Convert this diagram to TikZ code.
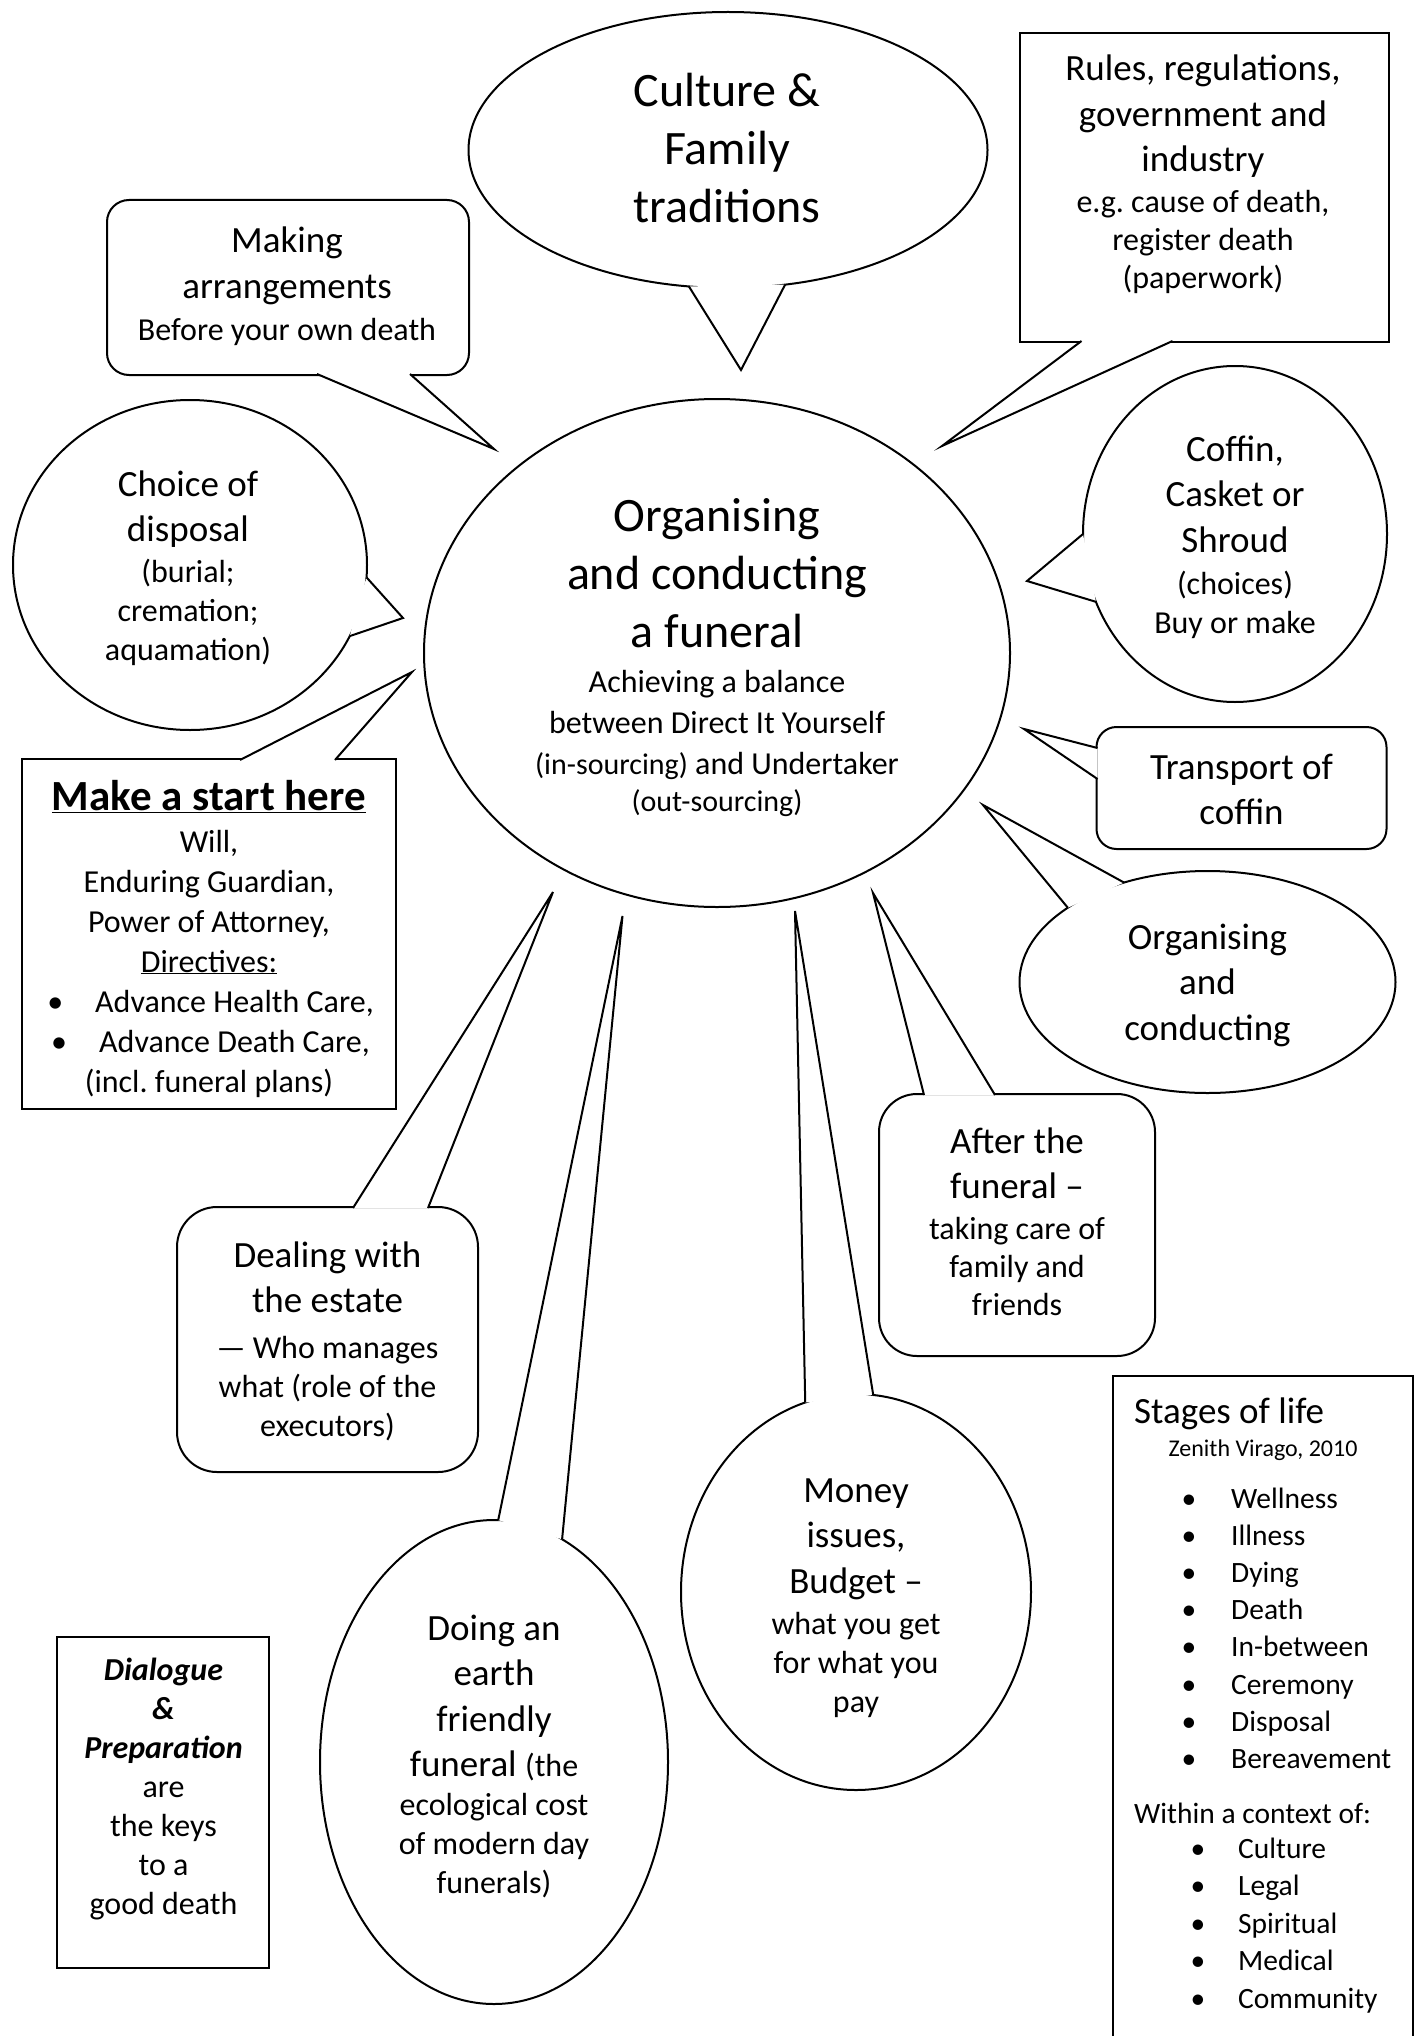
\documentclass[tikz,border=0pt]{standalone}
\usepackage{fontspec}
\setmainfont{Carlito}
\usetikzlibrary{shapes.geometric}
\definecolor{ink}{RGB}{0,0,0}
\frenchspacing
\newcommand\fbig{\fontsize{48}{58}\selectfont}
\newcommand\fmid{\fontsize{37}{45.5}\selectfont}
\newcommand\fsml{\fontsize{32}{39}\selectfont}
\newcommand\fpar{\fontsize{30}{37}\selectfont}
\newcommand\ftiny{\fontsize{24}{30}\selectfont}
\newcommand\flist{\fontsize{29.5}{37.5}\selectfont}
\tikzset{
  bubble/.style={ellipse,draw=ink,fill=white,line width=2pt,outer sep=0pt,inner sep=0pt},
  sqbox/.style={rectangle,draw=ink,fill=white,line width=2pt,outer sep=0pt,inner sep=0pt},
  rbox/.style={sqbox,rounded corners=#1},
  rbox/.default=22pt,
  tail/.style={draw=ink,fill=white,line width=2pt},
  txt/.style={align=flush center,anchor=base,inner sep=0pt,text width=#1},
  txt/.default=340pt,
  item/.style={anchor=base west,inner sep=0pt,font=\flist},
}
\begin{document}
\begin{tikzpicture}[x=1pt,y=-1pt]
  \path[use as bounding box,fill=white] (0,0) rectangle (1421,2036);
  % bubbles and boxes
  \node[bubble,minimum width=519pt,minimum height=276pt] (cult) at (728,150) {};
  \node[rbox,minimum width=362pt,minimum height=175pt] (mkar) at (288,287.5) {};
  \node[sqbox,minimum width=369pt,minimum height=309pt] (rule) at (1204,187.5) {};
  \node[bubble,minimum width=304pt,minimum height=336pt] (cofn) at (1235,534) {};
  \node[bubble,minimum width=354pt,minimum height=330pt] (chdi) at (190,565) {};
  \node[bubble,minimum width=586pt,minimum height=508pt] (fune) at (717,653) {};
  \node[sqbox,minimum width=374pt,minimum height=350pt] (mkst) at (209,934) {};
  \node[rbox=20pt,minimum width=290pt,minimum height=122pt] (trco) at (1241.5,788) {};
  \node[bubble,minimum width=376pt,minimum height=222pt] (orco) at (1207.5,982) {};
  \node[rbox=38pt,minimum width=276pt,minimum height=262pt] (aftr) at (1017,1225) {};
  \node[rbox=40pt,minimum width=301pt,minimum height=265pt] (deal) at (327.5,1339.5) {};
  \node[bubble,minimum width=348pt,minimum height=484pt] (erth) at (494,1762) {};
  \node[bubble,minimum width=350pt,minimum height=396pt] (mony) at (856,1592) {};
  \node[sqbox,minimum width=212pt,minimum height=331pt] (dlg) at (163,1802.5) {};
  \node[sqbox,minimum width=300pt,minimum height=724pt] (stag) at (1263,1738) {};
  % tails
  \coordinate (cult-tip) at (741,370);
  \coordinate (mkar-tip) at (494,449);
  \coordinate (rule-tip) at (942,446);
  \coordinate (cofn-tip) at (1027,581);
  \coordinate (chdi-tip) at (403,618);
  \coordinate (mkst-tip) at (412,672);
  \coordinate (trco-tip) at (1024,729);
  \coordinate (orco-tip) at (983,805);
  \coordinate (aftr-tip) at (873,893);
  \coordinate (deal-tip) at (553,892);
  \coordinate (erth-tip) at (622.5,916);
  \coordinate (mony-tip) at (795,911);
  \draw[tail] (cult.254) -- (cult-tip) -- (cult.293);
  \draw[tail] ([xshift=210pt,yshift=1pt]mkar.south west) -- (mkar-tip) -- ([xshift=303pt,yshift=1pt]mkar.south west);
  \draw[tail] ([xshift=62pt,yshift=1pt]rule.south west) -- (rule-tip) -- ([xshift=153pt,yshift=1pt]rule.south west);
  \draw[tail] (cofn.180) -- (cofn-tip) -- (cofn.206);
  \draw[tail] (chdi.356) -- (chdi-tip) -- (chdi.336);
  \draw[tail] ([xshift=218pt,yshift=-1pt]mkst.north west) -- (mkst-tip) -- ([xshift=313pt,yshift=-1pt]mkst.north west);
  \draw[tail] ([xshift=1pt,yshift=-21pt]trco.north west) -- (trco-tip) -- ([xshift=1pt,yshift=-52pt]trco.north west);
  \draw[tail] (orco.130) -- (orco-tip) -- (orco.152);
  \draw[tail] ([xshift=45pt,yshift=-1pt]aftr.north west) -- (aftr-tip) -- ([xshift=116pt,yshift=-1pt]aftr.north west);
  \draw[tail] ([xshift=176pt,yshift=-1pt]deal.north west) -- (deal-tip) -- ([xshift=251pt,yshift=-1pt]deal.north west);
  \draw[tail] (erth.89) -- (erth-tip) -- (erth.73);
  \draw[tail] (mony.105) -- (mony-tip) -- (mony.85);
  % texts
  \node[txt=300pt,font=\fbig] (cult-t) at (727,107) {Culture \&\\Family\\traditions\par};
  \node[txt,font=\fmid] (mkar-t) at (287,253) {Making\\arrangements\par\vspace{3pt}\fsml Before your own death\par};
  \node[txt,font=\fmid] (rule-t) at (1203,81) {Rules, regulations,\\government and\\industry\par\vspace{3pt}\fontsize{32}{38}\selectfont e.g. cause of death,\\register death\\(paperwork)\par};
  \node[txt,font=\fmid] (cofn-t) at (1235,461) {Coffin,\\Casket or\\Shroud\par\vspace{3pt}\fsml (choices)\\Buy or make\par};
  \node[txt,font=\fmid] (chdi-t) at (188,496) {Choice of\\disposal\par\vspace{2pt}\fsml (burial;\\cremation;\\aquamation)\par};
  \node[txt=480pt,font=\fbig] (fune-t) at (717,531) {Organising\\and conducting\\a funeral\par\vspace{4pt}\fontsize{32}{41}\selectfont Achieving a balance\\between Direct It Yourself\\{\fpar (in-sourcing)} and Undertaker\par\fpar (out-sourcing)\par};
  \node[txt=370pt,font=\fontsize{32}{40}\selectfont] (mkst-t) at (209,810) {{\fontsize{43}{52}\selectfont\bfseries\underline{Make a start here}}\par\vspace{2pt}Will,\\Enduring Guardian,\\Power of Attorney,\\\underline{Directives:}\\\hspace*{3pt}\textbullet\hspace{32pt}Advance Health Care,\\\hspace*{3pt}\textbullet\hspace{32pt}Advance Death Care,\\(incl. funeral plans)\par};
  \node[txt,font=\fmid] (trco-t) at (1241.5,779) {Transport of\\coffin\par};
  \node[txt,font=\fmid] (orco-t) at (1207.5,949) {Organising\\and\\conducting\par};
  \node[txt,font=\fmid] (aftr-t) at (1017,1153) {After the\\funeral –\par\vspace{3pt}\fontsize{32}{38}\selectfont taking care of\\family and\\friends\par};
  \node[txt,font=\fmid] (deal-t) at (327.5,1267) {Dealing with\\the estate\par\vspace{7pt}\fsml — Who manages\\what (role of the\\executors)\par};
  \node[txt,font=\fmid] (erth-t) at (494,1640) {Doing an\\earth\\friendly\\funeral {\fsml (the}\par\fsml ecological cost\\of modern day\\funerals)\par};
  \node[txt,font=\fmid] (mony-t) at (856,1502) {Money\\issues,\\Budget –\par\vspace{2pt}\fsml what you get\\for what you\\pay\par};
  \node[txt=200pt,font=\fsml] (dlg-t) at (163.5,1680) {\textbf{\textit{Dialogue}}\\\textbf{\textit{\&}}\\\textbf{\textit{Preparation}}\\are\\the keys\\to a\\good death\par};
  \node[anchor=base west,inner sep=0pt,font=\fmid] (stag-t) at (1134,1423) {Stages of life};
  \node[anchor=base,inner sep=0pt,font=\ftiny] (stag-s) at (1263,1456) {Zenith Virago, 2010};
  \foreach \w [count=\i] in {Wellness,Illness,Dying,Death,In-between,Ceremony,Disposal,Bereavement}
    \node[item] (stg\i) at (1231,{1470.8+37.2*\i}) {\llap{\textbullet\hspace{35pt}}\w};
  \node[item] (ctx-t) at (1134,1823) {Within a context of:};
  \foreach \w [count=\i] in {Culture,Legal,Spiritual,Medical,Community}
    \node[item] (ctx\i) at (1238,{1820.4+37.6*\i}) {\llap{\textbullet\hspace{33pt}}\w};
\end{tikzpicture}
\end{document}
